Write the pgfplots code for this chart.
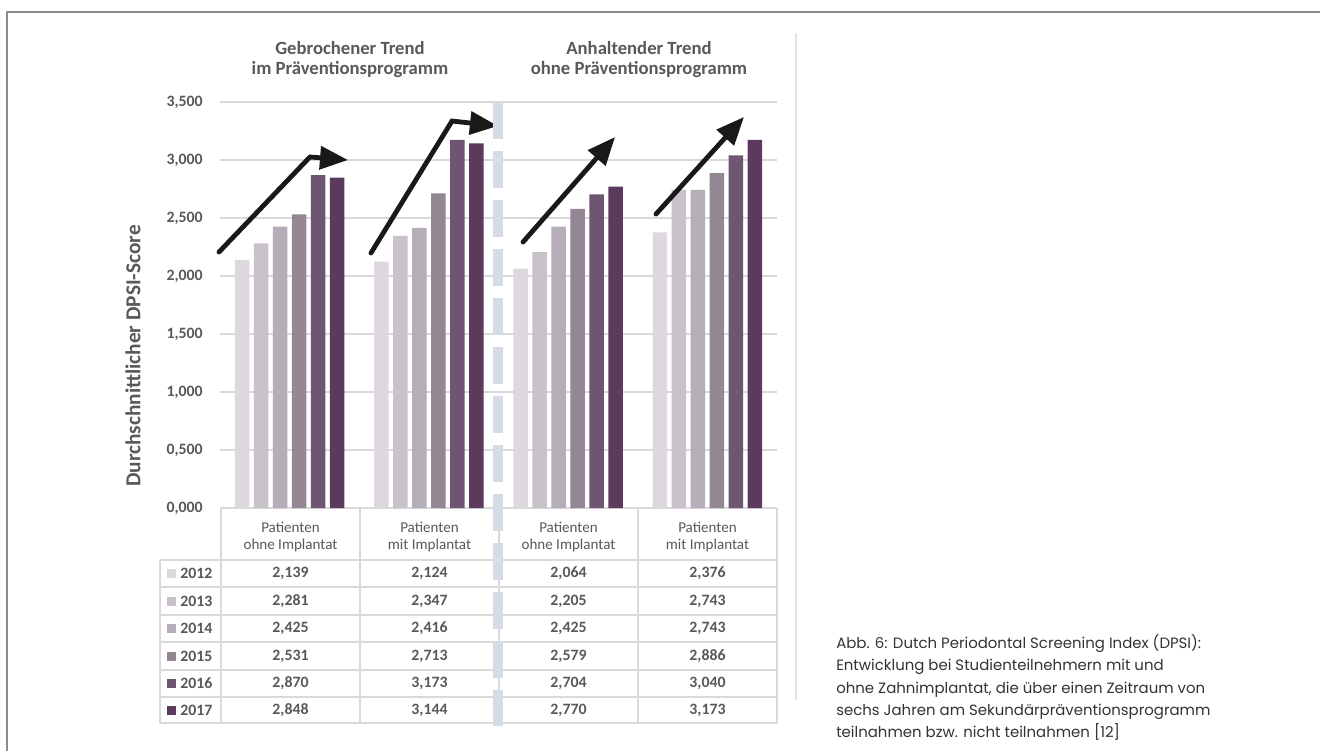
\documentclass[border=0pt]{standalone}
\usepackage{pgfplots}
\pgfplotsset{compat=1.18}
\usepackage{pgfplotstable}
\usepackage{fontspec}
\setmainfont{Carlito}
\newfontfamily\capfont{Poppins}
\usetikzlibrary{arrows.meta}

\definecolor{cA}{HTML}{DDD8DE}
\definecolor{cB}{HTML}{C9C2CA}
\definecolor{cC}{HTML}{B5ADB7}
\definecolor{cD}{HTML}{938794}
\definecolor{cE}{HTML}{6E5571}
\definecolor{cF}{HTML}{5B3A5E}
\definecolor{gridgray}{HTML}{D9D9D9}
\definecolor{txtgray}{HTML}{595959}
\definecolor{capgray}{HTML}{333333}
\definecolor{dashblue}{HTML}{D6DCE5}
\definecolor{framegray}{HTML}{8C8C8C}
\definecolor{sepgray}{HTML}{E3E3E3}

\pgfplotstableread{
x y2012 y2013 y2014 y2015 y2016 y2017
0 2.139 2.281 2.425 2.531 2.870 2.848
1 2.124 2.347 2.416 2.713 3.173 3.144
2 2.064 2.205 2.425 2.579 2.704 2.770
3 2.376 2.743 2.743 2.886 3.040 3.173
}\dpsidata

\begin{document}
\begin{tikzpicture}
\begin{scope}[x=0.75pt,y=-0.75pt]
\path[use as bounding box] (0,0) rectangle (1320,751);
\fill[white] (0,0) rectangle (1320,751);
\draw[framegray, line width=1.5pt] (7,751) -- (7,12) -- (1320,12);
\draw[sepgray, line width=1.5pt] (796,33) -- (796,700);

% titles
\node[align=center, font=\bfseries\fontsize{14}{14.5}\selectfont, text=txtgray] at (350,59.5) {Gebrochener Trend\\im Präventionsprogramm};
\node[align=center, font=\bfseries\fontsize{14}{14.5}\selectfont, text=txtgray] at (639,59.5) {Anhaltender Trend\\ohne Präventionsprogramm};

% y label
\node[rotate=90, font=\bfseries\fontsize{16}{18}\selectfont, text=txtgray] at (133,356) {Durchschnittlicher DPSI-Score};
\end{scope}

\begin{axis}[
  at={(165pt,-381pt)}, anchor=south west,
  scale only axis, width=417.75pt, height=304.5pt,
  xmin=-0.5, xmax=3.5, ymin=0, ymax=3.5,
  ytick={0,0.5,1,1.5,2,2.5,3,3.5},
  xtick=\empty,
  axis line style={draw=none},
  major tick length=0pt,
  ymajorgrids, grid style={gridgray, line width=1pt},
  yticklabel style={font=\bfseries\fontsize{11.85}{13}\selectfont, text=txtgray, inner sep=0pt, xshift=-12.75pt},
  /pgf/number format/.cd, fixed, fixed zerofill, precision=3, use comma, 1000 sep={}, assume math mode=true,
  /pgfplots/.cd,
  ybar=3.375pt, bar width=10.875pt,
  clip=false,
]
\addplot[fill=cA, draw=none] table[x=x,y=y2012]{\dpsidata};
\addplot[fill=cB, draw=none] table[x=x,y=y2013]{\dpsidata};
\addplot[fill=cC, draw=none] table[x=x,y=y2014]{\dpsidata};
\addplot[fill=cD, draw=none] table[x=x,y=y2015]{\dpsidata};
\addplot[fill=cE, draw=none] table[x=x,y=y2016]{\dpsidata};
\addplot[fill=cF, draw=none] table[x=x,y=y2017]{\dpsidata};
% trend arrows
\draw[black!90, line width=3.6pt, line cap=round, line join=miter, -{Triangle[length=21pt,width=17pt]}]
  (axis cs:-0.507,2.207) -- (axis cs:0.146,3.026) -- (axis cs:0.419,3.000);
\draw[black!90, line width=3.6pt, line cap=round, line join=miter, -{Triangle[length=21pt,width=17pt]}]
  (axis cs:0.584,2.198) -- (axis cs:1.166,3.336) -- (axis cs:1.496,3.293);
\draw[black!90, line width=3.6pt, line cap=round, -{Triangle[length=21pt,width=17pt]}]
  (axis cs:1.676,2.293) -- (axis cs:2.337,3.198);
\draw[black!90, line width=3.6pt, line cap=round, -{Triangle[length=21pt,width=17pt]}]
  (axis cs:2.631,2.534) -- (axis cs:3.263,3.371);
\end{axis}

\begin{scope}[x=0.75pt,y=-0.75pt]
% table
\begin{scope}[gridgray, line width=1pt]
\foreach \xx in {221,360,499,638,777} \draw (\xx,508) -- (\xx,723);
\draw (160,560) -- (160,723);
\foreach \yy in {560,587,615,642,670,697,723} \draw (160,\yy) -- (777,\yy);
\end{scope}
\foreach \cx/\la in {290.5/ohne Implantat, 429.5/mit Implantat, 568.5/ohne Implantat, 707.5/mit Implantat}{
  \node[font=\fontsize{11.3}{13}\selectfont, text=txtgray] at (\cx,527) {Patienten};
  \node[font=\fontsize{11.3}{13}\selectfont, text=txtgray] at (\cx,545) {\la};
}
\foreach \yy/\yr/\col/\va/\vb/\vc/\vd in {
  573.5/2012/cA/{2,139}/{2,124}/{2,064}/{2,376},
  601/2013/cB/{2,281}/{2,347}/{2,205}/{2,743},
  628.5/2014/cC/{2,425}/{2,416}/{2,425}/{2,743},
  656/2015/cD/{2,531}/{2,713}/{2,579}/{2,886},
  683.5/2016/cE/{2,870}/{3,173}/{2,704}/{3,040},
  710/2017/cF/{2,848}/{3,144}/{2,770}/{3,173}}{
  \fill[\col] (167,\yy-4.5) rectangle (176,\yy+4.5);
  \node[anchor=west, inner sep=0pt, font=\bfseries\fontsize{11.85}{13}\selectfont, text=txtgray] at (180,\yy) {\yr};
  \node[font=\bfseries\fontsize{11.85}{13}\selectfont, text=txtgray] at (290.5,\yy) {\va};
  \node[font=\bfseries\fontsize{11.85}{13}\selectfont, text=txtgray] at (429.5,\yy) {\vb};
  \node[font=\bfseries\fontsize{11.85}{13}\selectfont, text=txtgray] at (568.5,\yy) {\vc};
  \node[font=\bfseries\fontsize{11.85}{13}\selectfont, text=txtgray] at (707.5,\yy) {\vd};
}
% dashed separator
\draw[dashblue, line width=7.5pt, dash pattern=on 27.75pt off 9pt] (497.5,102) -- (497.5,726);

% caption
\begin{scope}[every node/.style={anchor=base west, inner sep=0pt, font=\capfont\fontsize{11.2}{12}\selectfont, text=capgray}]
\node at (836,648) {Abb. 6: Dutch Periodontal Screening Index (DPSI):};
\node at (836,670) {Entwicklung bei Studienteilnehmern mit und};
\node at (836,693) {ohne Zahnimplantat, die über einen Zeitraum von};
\node at (836,715) {sechs Jahren am Sekundärpräventionsprogramm};
\node at (836,737) {teilnahmen bzw. nicht teilnahmen [12]};
\end{scope}
\end{scope}
\end{tikzpicture}
\end{document}
